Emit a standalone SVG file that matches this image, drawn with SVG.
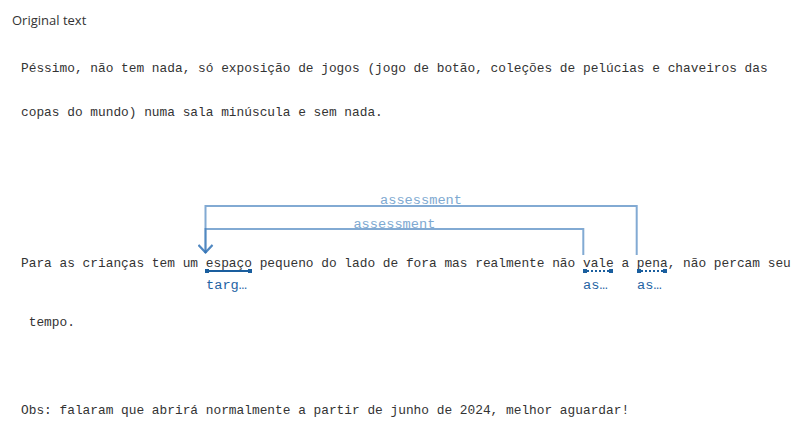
<svg xmlns="http://www.w3.org/2000/svg" width="807" height="446" viewBox="0 0 807 446">
<style>
.t{font-family:"Liberation Mono","DejaVu Sans Mono",monospace;font-size:12.83px;fill:#333333;white-space:pre}
.title{font-family:"Open Sans","Noto Sans",sans-serif;font-size:13px;font-weight:500;fill:#333333}
.lbl{font-family:"Liberation Mono","DejaVu Sans Mono",monospace;font-size:13.67px;fill:#7ea9d1}
.role{font-family:"Liberation Mono","DejaVu Sans Mono",monospace;font-size:13.67px;fill:#1f63a3}
.link{fill:none;stroke:#2f72b5;stroke-opacity:0.6;stroke-width:2}
.ul{stroke:#1a5e9e;stroke-width:2.2;fill:none}
.uld{stroke:#1a5e9e;stroke-width:2.2;fill:none;stroke-dasharray:2 2}
.cap{fill:#1a5e9e}
</style>
<defs>
<marker id="arr" viewBox="0 0 10 16" refX="9" refY="8" markerWidth="10" markerHeight="16" markerUnits="userSpaceOnUse" orient="auto">
<path d="M1,1 L8.5,8 L1,15" fill="none" stroke="#2f72b5" stroke-opacity="0.6" stroke-width="2"/>
</marker>
</defs>
<rect width="807" height="446" fill="#ffffff"/>
<text class="title" x="12" y="25">Original text</text>
<g id="line1"><text class="t" x="21" y="72">Péssimo, não tem nada, só exposição de jogos (jogo de botão, coleções de pelúcias e chaveiros das</text></g>
<g id="line2"><text class="t" x="21" y="116">copas do mundo) numa sala minúscula e sem nada.</text></g>
<g id="line3"><text class="t" x="21" y="267">Para as crianças tem um espaço pequeno do lado de fora mas realmente não vale a pena, não percam seu</text></g>
<g id="line4"><text class="t" x="21" y="326"> tempo.</text></g>
<g id="line5"><text class="t" x="21" y="414">Obs: falaram que abrirá normalmente a partir de junho de 2024, melhor aguardar!</text></g>
<g id="connectors">
<path class="link" d="M636.7,255 V206 H205.5 V253" marker-end="url(#arr)"/>
<path class="link" d="M583.3,255 V229 H205.5 V253" marker-end="url(#arr)"/>
<text class="lbl" x="421" y="204" text-anchor="middle">assessment</text>
<text class="lbl" x="394.4" y="228" text-anchor="middle">assessment</text>
</g>
<g id="node-espaco">
<line class="ul" x1="207" y1="271" x2="250" y2="271"/>
<rect class="cap" x="205" y="269" width="4" height="4"/>
<rect class="cap" x="248" y="269" width="4" height="4"/>
<text class="role" x="206" y="289">targ…</text>
</g>
<g id="node-vale">
<line class="uld" x1="587" y1="271" x2="609" y2="271"/>
<rect class="cap" x="583" y="269" width="4" height="4"/>
<rect class="cap" x="609" y="269" width="4" height="4"/>
<text class="role" x="583" y="289">as…</text>
</g>
<g id="node-pena">
<line class="uld" x1="641" y1="271" x2="663" y2="271"/>
<rect class="cap" x="637" y="269" width="4" height="4"/>
<rect class="cap" x="663" y="269" width="4" height="4"/>
<text class="role" x="637" y="289">as…</text>
</g>
</svg>
